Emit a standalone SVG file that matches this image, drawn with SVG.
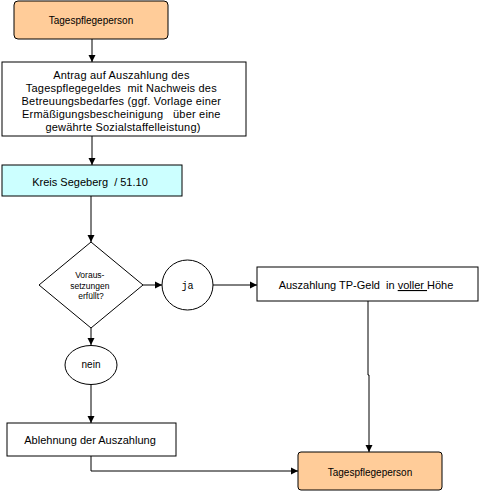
<svg xmlns="http://www.w3.org/2000/svg" width="480" height="492" viewBox="0 0 480 492">
<defs>
<style>
.box{stroke:#000;stroke-width:1}
.org{fill:#FFCC99}
.cyan{fill:#CCFFFF}
.wht{fill:#fff}
.t{font-family:"Liberation Sans",Arial,sans-serif;fill:#000;text-anchor:middle}
.c{fill:none;stroke:#000;stroke-width:1}
</style>
<marker id="ah" markerUnits="userSpaceOnUse" markerWidth="8" markerHeight="8" refX="7" refY="4" orient="auto">
<path d="M0,0.5 L7,4 L0,7.5 z" fill="#000"/>
</marker>
</defs>
<rect width="480" height="492" fill="#fff"/>
<g id="connectors">
<line class="c" x1="92" y1="39" x2="92" y2="62" marker-end="url(#ah)"/>
<line class="c" x1="92" y1="136" x2="92" y2="165" marker-end="url(#ah)"/>
<line class="c" x1="91" y1="196" x2="91" y2="242" marker-end="url(#ah)"/>
<line class="c" x1="143" y1="285" x2="162" y2="285" marker-end="url(#ah)"/>
<line class="c" x1="213" y1="285" x2="257" y2="285" marker-end="url(#ah)"/>
<line class="c" x1="91" y1="328" x2="91" y2="345" marker-end="url(#ah)"/>
<line class="c" x1="91" y1="384" x2="91" y2="423" marker-end="url(#ah)"/>
<polyline class="c" points="368,301 368,375 369,375 369,452" marker-end="url(#ah)"/>
<polyline class="c" points="91,456 91,471 298,471" marker-end="url(#ah)"/>
</g>
<g id="n1">
<rect class="box org" x="14" y="1" width="154" height="38" rx="4"/>
<text class="t" x="91" y="24" font-size="10">Tagespflegeperson</text>
</g>
<g id="n2">
<rect class="box wht" x="2" y="62" width="244" height="74"/>
<text class="t" font-size="11" letter-spacing="0.2">
<tspan x="123" y="79">Antrag auf Auszahlung des</tspan>
<tspan x="123" y="92">Tagespflegegeldes&#160; mit Nachweis des</tspan>
<tspan x="123" y="105">Betreuungsbedarfes (ggf. Vorlage einer</tspan>
<tspan x="123" y="118">Ermäßigungsbescheinigung&#160;&#160; über eine</tspan>
<tspan x="123" y="131">gewährte Sozialstaffelleistung)</tspan>
</text>
</g>
<g id="n3">
<rect class="box cyan" x="2" y="165" width="180" height="31"/>
<text class="t" x="90" y="186" font-size="11">Kreis Segeberg&#160; / 51.10</text>
</g>
<g id="n4">
<polygon class="box wht" points="91,242 143,285 91,328 39,285"/>
<text class="t" font-size="8.5">
<tspan x="91" y="278">Voraus-</tspan>
<tspan x="91" y="289">setzungen</tspan>
<tspan x="91" y="299">erfüllt?</tspan>
</text>
</g>
<g id="n5">
<ellipse class="box wht" cx="187.5" cy="285" rx="25.5" ry="25"/>
<text x="187.5" y="289" font-size="10" font-family="'Liberation Mono','DejaVu Sans Mono',monospace" text-anchor="middle">ja</text>
</g>
<g id="n6">
<rect class="box wht" x="257" y="267" width="221" height="34"/>
<text class="t" x="366" y="289" font-size="11">Auszahlung TP-Geld&#160; in <tspan text-decoration="underline">voller </tspan>Höhe</text>
</g>
<g id="n7">
<ellipse class="box wht" cx="91" cy="365" rx="26" ry="19.5"/>
<text class="t" x="91" y="368" font-size="10">nein</text>
</g>
<g id="n8">
<rect class="box wht" x="7" y="423" width="169" height="33"/>
<text class="t" x="90" y="444" font-size="11">Ablehnung der Auszahlung</text>
</g>
<g id="n9">
<rect class="box org" x="298" y="452" width="144" height="38" rx="3"/>
<text class="t" x="370" y="476" font-size="10">Tagespflegeperson</text>
</g>
</svg>
